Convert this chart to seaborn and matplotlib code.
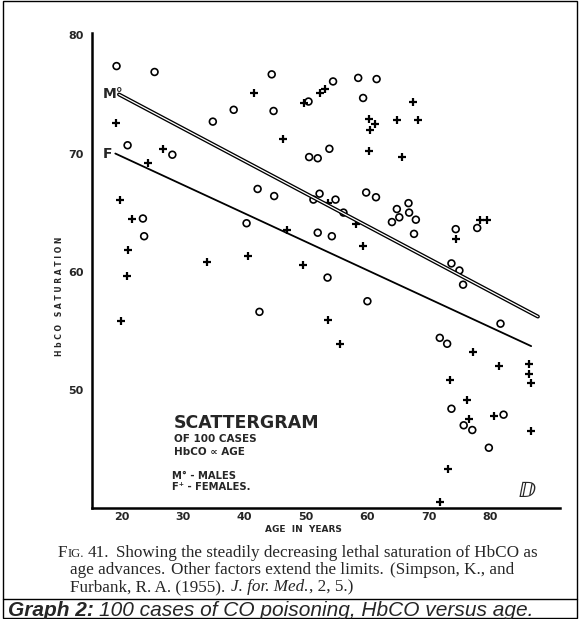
import matplotlib
matplotlib.use("Agg")
import matplotlib.pyplot as plt
import seaborn as sns
from matplotlib.patches import Rectangle
from matplotlib.lines import Line2D

# males (open circles)
male_age = [19.1, 25.3, 44.4, 54.4, 58.5, 61.5, 50.4, 59.3, 38.2, 44.7,
            34.8, 20.9, 28.2, 50.5, 51.9, 53.8, 42.1, 44.8, 52.2, 54.8,
            51.2, 56.1, 59.8, 61.4, 66.7, 64.8, 66.8, 65.2, 67.9, 64.0,
            67.6, 23.4, 23.6, 40.3, 51.9, 54.2, 74.4, 77.9, 42.4, 53.5,
            60.0, 73.7, 75.0, 75.6, 81.7, 71.8, 73.0, 73.7, 75.7, 77.1,
            82.2, 79.8]
male_hbco = [77.4, 76.9, 76.7, 76.1, 76.4, 76.3, 74.4, 74.7, 73.7, 73.6,
             72.7, 70.7, 69.9, 69.7, 69.6, 70.4, 67.0, 66.4, 66.6, 66.1,
             66.1, 65.0, 66.7, 66.3, 65.8, 65.3, 65.0, 64.6, 64.4, 64.2,
             63.2, 64.5, 63.0, 64.1, 63.3, 63.0, 63.6, 63.7, 56.6, 59.5,
             57.5, 60.7, 60.1, 58.9, 55.6, 54.4, 53.9, 48.4, 47.0, 46.6,
             47.9, 45.1]

# females (crosses)
female_age = [41.5, 49.6, 52.3, 53.1, 19.0, 46.2, 26.7, 24.3, 19.6, 21.6,
              46.9, 67.5, 60.3, 61.2, 60.4, 64.8, 68.3, 60.2, 65.6, 53.5,
              58.1, 74.4, 78.3, 79.5, 20.9, 20.8, 19.9, 33.8, 40.5, 49.5,
              59.3, 53.5, 55.5, 77.2, 81.4, 86.3, 86.3, 86.6, 73.4, 76.3,
              76.5, 80.6, 86.6, 73.1, 71.8]
female_hbco = [75.1, 74.3, 75.1, 75.5, 72.6, 71.2, 70.4, 69.2, 66.1, 64.5,
               63.5, 74.4, 72.9, 72.5, 72.0, 72.8, 72.8, 70.2, 69.7, 65.8,
               64.0, 62.8, 64.4, 64.4, 61.8, 59.6, 55.8, 60.8, 61.3, 60.6,
               62.2, 55.9, 53.9, 53.2, 52.0, 52.2, 51.3, 50.6, 50.8, 49.1,
               47.5, 47.8, 46.5, 43.3, 40.5]

# fitted lines, end points
male_fit_age = [19.5, 87.8]
male_fit_hbco = [75.0, 56.2]
female_fit_age = [18.9, 86.7]
female_fit_hbco = [70.0, 53.7]

x_ticks = [20, 30, 40, 50, 60, 70, 80]
y_ticks = [50, 60, 70, 80]

W, H = 580, 619

sns.set_style("white")
plt.rcParams['font.family'] = ['DejaVu Sans']

fig = plt.figure(figsize=(W / 100, H / 100), dpi=100)
ax = fig.add_axes([92 / W, 1 - 508 / H, (560 - 92) / W, (508 - 33) / H])

sns.scatterplot(x=male_age, y=male_hbco, marker='o', s=24,
                fc='none', ec='black', linewidth=1.2, ax=ax)
sns.scatterplot(x=female_age, y=female_hbco, marker='+', s=36,
                color='black', linewidth=1.6, ax=ax)

# double line for males
sns.lineplot(x=male_fit_age, y=male_fit_hbco, color='black', lw=2.8, ax=ax)
sns.lineplot(x=male_fit_age, y=male_fit_hbco, color='white', lw=0.9, ax=ax)
sns.lineplot(x=female_fit_age, y=female_fit_hbco, color='black', lw=1.3, ax=ax)

ax.set_xlim(15.1, 91.4)
ax.set_ylim(40.0, 80.2)
ax.set_xticks(x_ticks)
ax.set_yticks(y_ticks)
ax.set_xticklabels([str(t) for t in x_ticks], fontsize=8, fontweight='bold')
ax.set_yticklabels([str(t) for t in y_ticks], fontsize=8, fontweight='bold')
ax.tick_params(axis='x', length=0, pad=3)
ax.tick_params(axis='y', length=0, pad=6)
for side in ['top', 'right']:
    ax.spines[side].set_visible(False)
for side in ['left', 'bottom']:
    ax.spines[side].set_color('black')
    ax.spines[side].set_linewidth(1.8)
ax.set_xlabel('')
ax.set_ylabel('')

# line labels
ax.text(16.8, 75.0, 'M°', fontsize=10, fontweight='bold', ha='left', va='center')
ax.text(16.9, 70.0, 'F', fontsize=10, fontweight='bold', ha='left', va='center')

# block of text
ax.text(28.5, 47.2, 'SCATTERGRAM', fontsize=12.5, fontweight='bold', va='center')
ax.text(28.5, 45.8, 'OF 100 CASES', fontsize=7.5, fontweight='bold', va='center')
ax.text(28.5, 44.75, 'HbCO \u221d AGE', fontsize=7.5, fontweight='bold', va='center')
ax.text(28.2, 42.7, 'M° - MALES', fontsize=7.2, fontweight='bold', va='center')
ax.text(28.2, 41.8, 'F\u207a - FEMALES.', fontsize=7.2, fontweight='bold', va='center')
ax.text(86.0, 41.4, '\u2145', fontsize=15, fontweight='bold', ha='center', va='center')

fig.text(60 / W, 1 - 296 / H, 'H b C O   S A T U R A T I O N', rotation=90,
         fontsize=5.5, fontweight='bold', ha='center', va='center')
fig.text(303 / W, 1 - 530 / H, 'AGE  IN  YEARS', fontsize=6.5,
         fontweight='bold', ha='center', va='center')

renderer = fig.canvas.get_renderer()


def put_pieces(x_px, y_px, pieces):
    # lay text pieces one after another along a baseline
    x = x_px
    for s, gap, kw in pieces:
        x += gap
        t = fig.text(x / W, 1 - y_px / H, s, ha='left', va='baseline', **kw)
        x += t.get_window_extent(renderer).width


serif = dict(family='Liberation Serif', fontsize=12.3)
serif_small = dict(family='Liberation Serif', fontsize=9.2)
serif_it = dict(family='Liberation Serif', fontsize=12.3, style='italic')

put_pieces(58, 557, [
    ('F', 0, serif), ('IG.', 0, serif_small), ('41.', 4, serif),
    ('Showing the steadily decreasing lethal saturation of HbCO as', 6, serif)])
put_pieces(70, 574, [
    ('age advances.', 0, serif),
    ('Other factors extend the limits.', 6, serif),
    ('(Simpson, K., and', 6, serif)])
put_pieces(70, 591, [
    ('Furbank, R. A. (1955).', 0, serif),
    ('J. for. Med.', 6, serif_it),
    (', 2, 5.)', 0, serif)])

# frame and bottom caption
fig.add_artist(Rectangle((3 / W, 1 / H), 574 / W, 617 / H, fill=False,
                         ec='black', lw=1.0, transform=fig.transFigure))
fig.add_artist(Line2D([3 / W, 577 / W], [1 - 599 / H, 1 - 599 / H],
                      color='black', lw=1.0, transform=fig.transFigure))
put_pieces(8, 616, [
    ('Graph 2:', 0, dict(family='Liberation Sans', fontsize=15,
                         fontweight='bold', style='italic')),
    ('100 cases of CO poisoning, HbCO versus age.', 5,
     dict(family='Liberation Sans', fontsize=15, style='italic'))])

fig.savefig('out.png', dpi=100)
